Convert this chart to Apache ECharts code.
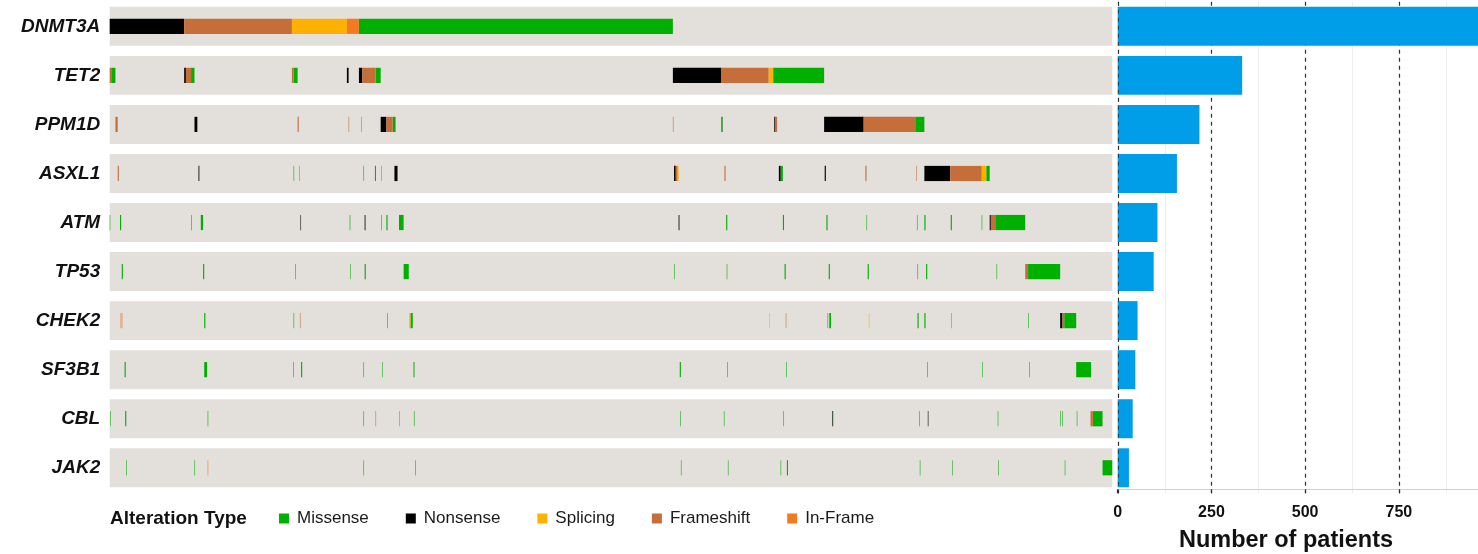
<!DOCTYPE html>
<html>
<head>
<meta charset="utf-8">
<script src="https://cdn.jsdelivr.net/npm/echarts@6/dist/echarts.min.js"></script>
<style>
  html, body { margin: 0; padding: 0; background: #ffffff; }
  #chart { width: 1478px; height: 554px; }
</style>
</head>
<body>
<div id="chart"></div>
<script>
// Genes, top to bottom
const genes = ['DNMT3A', 'TET2', 'PPM1D', 'ASXL1', 'ATM', 'TP53', 'CHEK2', 'SF3B1', 'CBL', 'JAK2'];
// Number of patients carrying an alteration in each gene
const patientCounts = [983, 332, 218, 158, 106, 96, 53, 47, 40, 30];
// Patients shown as columns of the oncoprint
const totalPatients = 1750;
// Patient-count axis: visible range, labelled breaks and faint in-between lines
const countMax = 961;
const countTicks = [0, 250, 500, 750];
const countMinorTicks = [125, 375, 625, 875];

const alterationTypes = ['Missense', 'Nonsense', 'Splicing', 'Frameshift', 'In-Frame'];
const typeCodes = { M: 'Missense', N: 'Nonsense', S: 'Splicing', F: 'Frameshift', I: 'In-Frame' };
const typeColors = ['#00b000', '#000000', '#ffb000', '#c66e3a', '#f47a22'];

// Alteration runs per gene: [first patient, last patient (exclusive), type]
const dnmt3a = [[0,130,'N'],[130,318,'F'],[318,414,'S'],[414,435,'I'],[435,983,'M']];
const tet2 = [[0,4,'F'],[4,10,'M'],[130,133,'N'],[133,142,'F'],[142,148,'M'],[318,321,'F'],[321,328,'M'],
  [414,417,'N'],[435,441,'N'],[441,464,'F'],[464,473,'M'],
  [983,1067,'N'],[1067,1150,'F'],[1150,1158,'S'],[1158,1247,'M']];
const ppm1d = [[10,14,'F'],[148,153,'N'],[328,330,'F'],[417,418,'F'],[439,440,'F'],
  [473,483,'N'],[483,494,'F'],[494,499,'M'],[983,984,'F'],[1068,1069,'N'],[1069,1070,'M'],
  [1160,1162,'N'],[1162,1165,'F'],[1247,1316,'N'],[1316,1406,'F'],[1406,1422,'M']];
const asxl1 = [[14,16,'F'],[155,156,'N'],[156,157,'M'],[321,322,'M'],[331,332,'F'],[443,444,'M'],
  [463,464,'N'],[474,475,'F'],[497,502,'N'],[502,503,'M'],[985,988,'N'],[988,991,'F'],[991,993,'S'],
  [1073,1075,'F'],[1168,1171,'N'],[1171,1175,'M'],[1248,1250,'N'],[1319,1321,'F'],[1408,1409,'F'],
  [1422,1467,'N'],[1467,1522,'F'],[1522,1530,'S'],[1530,1536,'M']];
const atm = [[0,1,'M'],[18,20,'M'],[142,143,'M'],[159,163,'M'],[333,334,'N'],[418,419,'S'],[419,420,'M'],
  [445,446,'N'],[446,447,'M'],[474,475,'M'],[483,485,'M'],[505,513,'M'],[993,994,'N'],[994,995,'M'],
  [1076,1078,'M'],[1175,1177,'M'],[1251,1253,'M'],[1321,1322,'M'],[1409,1410,'M'],[1422,1424,'M'],
  [1468,1470,'M'],[1522,1523,'M'],[1536,1538,'N'],[1538,1547,'F'],[1547,1598,'M']];
const tp53 = [[21,23,'M'],[163,165,'M'],[324,325,'M'],[420,421,'M'],[445,447,'M'],[513,522,'M'],
  [985,986,'M'],[1077,1078,'M'],[1178,1180,'M'],[1255,1257,'M'],[1323,1325,'M'],[1410,1411,'M'],
  [1425,1427,'M'],[1548,1549,'M'],[1598,1603,'F'],[1603,1659,'M']];
const chek2 = [[19,20,'I'],[21,22,'F'],[165,167,'M'],[321,322,'M'],[332,333,'F'],[484,485,'M'],
  [523,525,'S'],[525,529,'M'],[1151,1152,'S'],[1180,1181,'F'],[1253,1254,'M'],[1256,1259,'M'],
  [1325,1326,'S'],[1410,1412,'M'],[1422,1424,'M'],[1469,1470,'F'],[1603,1604,'M'],
  [1659,1663,'N'],[1663,1666,'F'],[1666,1687,'M']];
const sf3b1 = [[26,28,'M'],[165,170,'M'],[320,321,'M'],[334,336,'M'],[443,444,'M'],[476,477,'M'],
  [530,531,'F'],[531,532,'M'],[995,997,'M'],[1078,1079,'M'],[1181,1182,'M'],[1427,1428,'M'],
  [1523,1524,'M'],[1605,1606,'M'],[1687,1713,'M']];
const cbl = [[1,2,'M'],[27,29,'M'],[171,172,'M'],[443,444,'M'],[464,465,'F'],[505,506,'F'],[531,532,'M'],
  [996,997,'M'],[1072,1073,'M'],[1176,1177,'M'],[1261,1262,'N'],[1262,1263,'M'],[1413,1414,'M'],
  [1428,1429,'N'],[1550,1551,'M'],[1659,1660,'M'],[1663,1664,'M'],[1688,1689,'M'],
  [1712,1716,'F'],[1716,1733,'M']];
const jak2 = [[29,30,'M'],[148,149,'M'],[171,172,'I'],[443,444,'M'],[533,534,'M'],[997,998,'M'],
  [1079,1080,'M'],[1171,1172,'M'],[1182,1184,'M'],[1414,1415,'M'],[1471,1472,'M'],[1551,1552,'M'],
  [1667,1668,'M'],[1733,1750,'M']];

const geneSegments = [dnmt3a, tet2, ppm1d, asxl1, atm, tp53, chek2, sf3b1, cbl, jak2];

const FONT = "'Liberation Sans', Arial, Helvetica, sans-serif";

// Group runs by alteration type, one series each
const segmentsByType = alterationTypes.map(() => []);
geneSegments.forEach((runs, g) => {
  runs.forEach(([a, b, code]) => {
    segmentsByType[alterationTypes.indexOf(typeCodes[code])].push([a, b, g]);
  });
});

function renderBand(params, api) {
  const p0 = api.coord([api.value(0), api.value(2)]);
  const p1 = api.coord([api.value(1), api.value(2)]);
  const h = api.size([0, 1])[1] * 0.795;
  return {
    type: 'rect',
    shape: { x: p0[0], y: p0[1] - h / 2, width: p1[0] - p0[0], height: h },
    style: { fill: '#e3e0dc' }
  };
}

function renderSegment(params, api) {
  const p0 = api.coord([api.value(0), api.value(2)]);
  const p1 = api.coord([api.value(1), api.value(2)]);
  const h = api.size([0, 1])[1] * 0.31;
  return {
    type: 'rect',
    shape: { x: p0[0], y: p0[1] - h / 2, width: p1[0] - p0[0], height: h },
    style: { fill: api.visual('color') }
  };
}

// Vertical reference line across the count panel at a given count
function makeGridLine(style) {
  return function (params, api) {
    const x = Math.round(api.coord([api.value(0), 0])[0]) + 0.5;
    const cs = params.coordSys;
    return {
      type: 'line',
      shape: { x1: x, y1: cs.y, x2: x, y2: cs.y + cs.height + 1 },
      style: style
    };
  };
}

const chart = echarts.init(document.getElementById('chart'), null, { renderer: 'canvas' });

const gridTop = 1.8, gridHeight = 490.5;
const dashStyle = { stroke: '#2e2e2e', lineWidth: 1.2, lineDash: [4, 4] };

const series = [
  {
    type: 'custom',
    name: 'rows',
    xAxisIndex: 0, yAxisIndex: 0,
    renderItem: renderBand,
    encode: { x: [0, 1], y: 2 },
    data: genes.map((g, i) => [0, totalPatients, i]),
    silent: true,
    z: 1
  }
].concat(alterationTypes.map((t, k) => ({
  type: 'custom',
  name: t,
  xAxisIndex: 0, yAxisIndex: 0,
  renderItem: renderSegment,
  encode: { x: [0, 1], y: 2 },
  itemStyle: { color: typeColors[k] },
  data: segmentsByType[k],
  z: 2
}))).concat([
  {
    type: 'custom',
    name: 'minor lines',
    xAxisIndex: 1, yAxisIndex: 1,
    renderItem: makeGridLine({ stroke: '#eeeeee', lineWidth: 1 }),
    encode: { x: 0 },
    data: countMinorTicks.map(v => [v]),
    silent: true,
    z: 0
  },
  {
    type: 'custom',
    name: 'major lines',
    xAxisIndex: 1, yAxisIndex: 1,
    renderItem: makeGridLine(dashStyle),
    encode: { x: 0 },
    data: countTicks.map(v => [v]),
    silent: true,
    z: 1
  },
  {
    type: 'bar',
    name: 'Number of patients',
    xAxisIndex: 1, yAxisIndex: 1,
    data: patientCounts,
    barCategoryGap: '20.5%',
    itemStyle: { color: '#009ee8' },
    clip: true,
    z: 2
  },
  {
    type: 'custom',
    name: 'zero line',
    xAxisIndex: 1, yAxisIndex: 1,
    renderItem: makeGridLine({ stroke: '#2e2e2e', lineWidth: 1, lineDash: [4, 4], opacity: 0.8 }),
    encode: { x: 0 },
    data: [[countTicks[0]]],
    silent: true,
    z: 3
  }
]);

chart.setOption({
  animation: false,
  backgroundColor: '#ffffff',
  textStyle: { fontFamily: FONT },
  title: [
    {
      text: 'Alteration Type',
      left: 110, top: 509, padding: 0,
      textStyle: { fontFamily: FONT, fontSize: 19, fontWeight: 'bold', color: '#111111' }
    },
    {
      text: 'Number of patients',
      left: 1286, top: 529, padding: 0, textAlign: 'center',
      textStyle: { fontFamily: FONT, fontSize: 23.5, fontWeight: 'bold', color: '#111111' }
    }
  ],
  legend: {
    data: alterationTypes,
    left: 279, top: 510,
    padding: 0,
    icon: 'rect',
    itemWidth: 10, itemHeight: 10,
    itemGap: 37,
    textStyle: { fontFamily: FONT, fontSize: 17, color: '#1a1a1a', padding: [0, 0, 0, 3] },
    selectedMode: false
  },
  grid: [
    { left: 109.7, top: gridTop, width: 1002.6, height: gridHeight, containLabel: false },
    { left: 1117.7, top: gridTop, right: 0, height: gridHeight, containLabel: false }
  ],
  xAxis: [
    {
      gridIndex: 0, type: 'value', min: 0, max: totalPatients,
      show: false
    },
    {
      gridIndex: 1, type: 'value', min: 0, max: countMax, interval: 250,
      offset: -3,
      axisLine: { show: true, lineStyle: { color: '#d0d0d0', width: 1 } },
      axisTick: { show: true, length: 4, lineStyle: { color: '#333333', width: 1.2 } },
      axisLabel: {
        showMaxLabel: false, margin: 15,
        fontFamily: FONT, fontSize: 16, fontWeight: 'bold', color: '#111111'
      },
      splitLine: { show: false }
    }
  ],
  yAxis: [
    {
      gridIndex: 0, type: 'category', data: genes, inverse: true,
      axisLine: { show: false }, axisTick: { show: false },
      axisLabel: {
        margin: 9.5, fontFamily: FONT, fontSize: 19, fontWeight: 'bold', fontStyle: 'italic', color: '#111111'
      },
      splitLine: { show: false }
    },
    {
      gridIndex: 1, type: 'category', data: genes, inverse: true,
      axisLine: { show: false }, axisTick: { show: false }, axisLabel: { show: false },
      splitLine: { show: false }
    }
  ],
  series: series
});
</script>
</body>
</html>
